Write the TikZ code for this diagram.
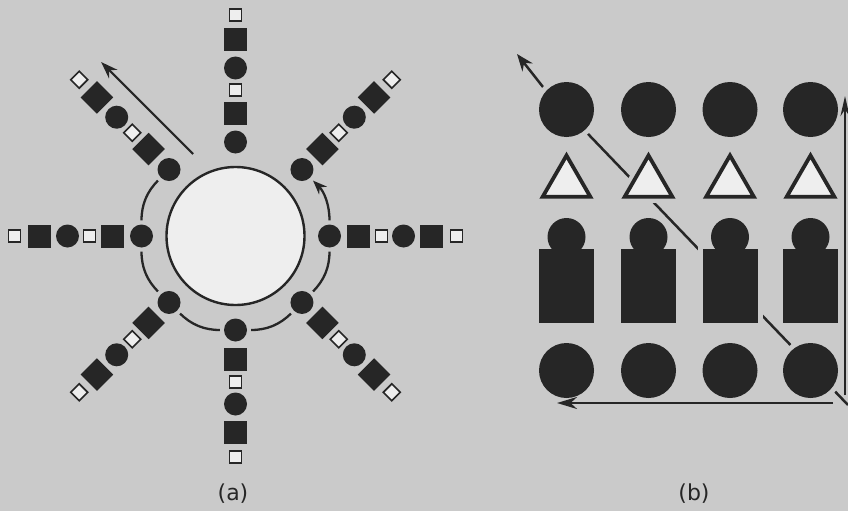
\documentclass[tikz,border=0pt]{standalone}
\usepackage{fontspec}
\setmainfont{DejaVu Sans}
\usetikzlibrary{shapes.geometric, arrows.meta, calc}

\definecolor{paper}{RGB}{202,202,202}
\definecolor{ink}{RGB}{38,38,38}
\definecolor{chalk}{RGB}{238,238,238}

\begin{document}
\begin{tikzpicture}[
    x=1pt, y=1pt,
    hub/.style={circle, draw=ink, fill=chalk, line width=2.4pt, minimum size=138pt, inner sep=0pt},
    dot/.style={circle, fill=ink, minimum size=23pt, inner sep=0pt},
    blk/.style={rectangle, fill=ink, minimum size=23pt, inner sep=0pt},
    wsq/.style={rectangle, draw=ink, fill=chalk, line width=1.7pt, minimum size=12pt, inner sep=0pt},
    ring/.style={draw=ink, line width=2.3pt, shorten <=4pt, shorten >=4pt},
    ball/.style={circle, fill=ink, minimum size=55pt, inner sep=0pt, preaction={draw=paper, line width=10pt}},
    tri/.style={regular polygon, regular polygon sides=3, draw=ink, fill=chalk, line width=3.8pt, minimum size=55pt, inner sep=0pt, preaction={draw=paper, line width=12pt}},
    head/.style={circle, fill=ink, minimum size=38pt, inner sep=0pt},
    body/.style={rectangle, fill=ink, minimum width=55pt, minimum height=74pt, inner sep=0pt, preaction={draw=paper, line width=10pt}},
    flow/.style={draw=ink, line width=2.5pt},
    tag/.style={font=\fontsize{22}{25}\selectfont, text=ink, inner sep=0pt}
]
    \useasboundingbox[fill=paper] (0,0) rectangle (848,-511);

    % (a) hub with eight spokes
    \node[hub] (hub) at (235.5,-236) {};
    \foreach \a in {0,45,...,315}
        \foreach \r/\s [count=\k] in {94/dot,123/blk,146/wsq,168/dot,196/blk,221/wsq}
            \node[\s, rotate=\a] (s\a-\k) at ($(hub)+(\a:\r)$) {};

    \foreach \p/\q in {135/180,180/225,225/270,270/315,315/0}
        \draw[ring] (s\p-1) to[bend right=22.5] (s\q-1);
    \draw[ring, -{Stealth[length=14pt, width=11pt]}] (s0-1) to[bend right=22.5] (s45-1);

    \coordinate (nwtail) at ($(hub)+(135:88)+(45:28)$);
    \coordinate (nwtip) at ($(hub)+(135:218)+(45:28)$);
    \draw[flow, line width=2.2pt, -{Stealth[length=17pt, width=12pt]}] (nwtail) -- (nwtip);

    % (b) grid, diagonal goes behind the shapes
    \coordinate (dgs) at (848,-405);
    \coordinate (dgk) at (543,-87);
    \coordinate (dgt) at (517,-54);
    \draw[flow, line join=round, -{Stealth[length=17pt, width=13pt]}] (dgs) -- (dgk) -- (dgt);

    \foreach \x [count=\i] in {566.5,648.5,730,810.5} {
        \node[ball] (top\i) at (\x,-109.5) {};
        \node[tri] (tri\i) at (\x,-183) {};
        \node[body] (body\i) at (\x,-286) {};
        \node[head] (head\i) at (\x,-237) {};
        \node[ball] (low\i) at (\x,-370.5) {};
    }

    \coordinate (vbot) at (845,-395);
    \coordinate (vtop) at (845,-96);
    \coordinate (hrt) at (833,-403);
    \coordinate (hlft) at (557,-403);
    \draw[flow, -{Stealth[length=20pt, width=9pt]}] (vbot) -- (vtop);
    \draw[flow, -{Stealth[length=20pt, width=12pt]}] (hrt) -- (hlft);

    \node[tag] (capa) at (233,-494) {(a)};
    \node[tag] (capb) at (694,-494) {(b)};
\end{tikzpicture}
\end{document}
